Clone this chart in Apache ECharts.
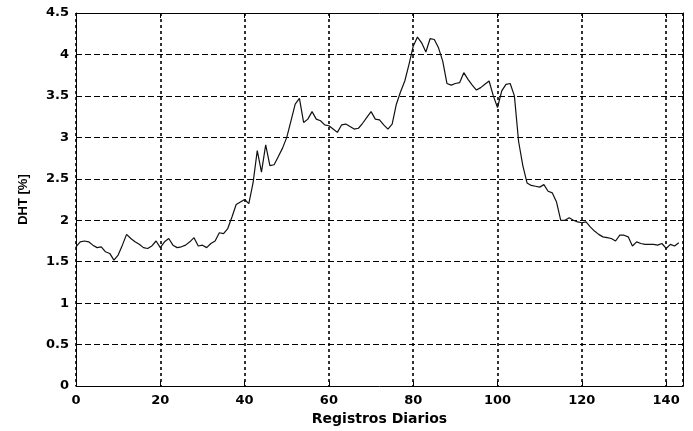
<!DOCTYPE html>
<html>
<head>
<meta charset="utf-8">
<script src="https://cdn.jsdelivr.net/npm/echarts@6/dist/echarts.min.js"></script>
<style>
html,body{margin:0;padding:0;background:#fff;}
#chart{width:693px;height:431px;}
</style>
</head>
<body>
<div id="chart"></div>
<script>
// Registros Diarios: 0..143
const dht = [
1.68,1.74,1.75,1.74,1.70,1.67,1.68,1.62,1.60,1.52,
1.58,1.70,1.83,1.78,1.74,1.71,1.67,1.66,1.69,1.75,
1.67,1.74,1.78,1.70,1.67,1.68,1.70,1.74,1.79,1.69,
1.70,1.67,1.72,1.75,1.85,1.84,1.90,2.04,2.19,2.22,
2.25,2.20,2.45,2.84,2.58,2.91,2.66,2.67,2.77,2.87,
3.00,3.20,3.40,3.47,3.18,3.22,3.31,3.22,3.20,3.15,
3.14,3.10,3.06,3.15,3.16,3.13,3.10,3.11,3.17,3.24,
3.31,3.22,3.21,3.15,3.10,3.16,3.40,3.55,3.68,3.88,
4.10,4.21,4.14,4.03,4.19,4.18,4.08,3.92,3.65,3.63,
3.65,3.66,3.78,3.70,3.63,3.57,3.60,3.64,3.68,3.50,
3.36,3.56,3.64,3.65,3.50,2.95,2.66,2.45,2.42,2.41,
2.40,2.43,2.35,2.33,2.22,2.00,2.00,2.03,2.00,1.98,
1.97,1.98,1.92,1.87,1.83,1.80,1.79,1.78,1.75,1.82,
1.82,1.80,1.69,1.74,1.72,1.71,1.71,1.71,1.70,1.72,
1.66,1.71,1.69,1.73
];
const xName = 'Registros Diarios';
const yName = 'DHT [%]';

const points = dht.map((v, i) => [i, v]);

const labelFont = {color:'#000', fontFamily:'DejaVu Sans', fontWeight:'bold', fontSize:13};
const frameLine = {show:true, onZero:false, lineStyle:{color:'#000', width:1}};
const tick = {show:true, inside:true, length:5, lineStyle:{color:'#000'}};
const gridV = {show:true, lineStyle:{color:'#000', type:[3,3], width:1.6}};
const gridH = {show:true, lineStyle:{color:'#000', type:[6,3], width:1}};

const chart = echarts.init(document.getElementById('chart'), null, {renderer:'canvas'});
chart.setOption({
  animation:false,
  backgroundColor:'#fff',
  grid:{left:76, right:10, top:13, bottom:42, containLabel:false},
  xAxis:[{
    type:'value', min:0, max:144, interval:20, position:'bottom',
    axisLine:frameLine, axisTick:tick, splitLine:gridV,
    axisLabel:Object.assign({margin:8, showMaxLabel:false}, labelFont),
    name:xName, nameLocation:'middle', nameGap:25,
    nameTextStyle:{color:'#000', fontFamily:'DejaVu Sans', fontWeight:'bold', fontSize:14}
  },{
    type:'value', min:0, max:144, interval:20, position:'top',
    axisLine:frameLine, axisTick:tick, splitLine:{show:false}, axisLabel:{show:false}
  }],
  yAxis:[{
    type:'value', min:0, max:4.5, interval:0.5, position:'left',
    axisLine:frameLine, axisTick:tick, splitLine:gridH,
    axisLabel:Object.assign({margin:7}, labelFont),
    name:yName, nameLocation:'middle', nameGap:46, nameRotate:90,
    nameTextStyle:{color:'#000', fontFamily:'Liberation Sans', fontWeight:'bold', fontSize:13}
  },{
    type:'value', min:0, max:4.5, interval:0.5, position:'right',
    axisLine:frameLine, axisTick:tick, splitLine:{show:false}, axisLabel:{show:false}
  }],
  series:[{
    type:'line', data:points, xAxisIndex:0, yAxisIndex:0,
    showSymbol:false, symbol:'none',
    lineStyle:{color:'#111', width:1.2}
  }]
});
</script>
</body>
</html>
